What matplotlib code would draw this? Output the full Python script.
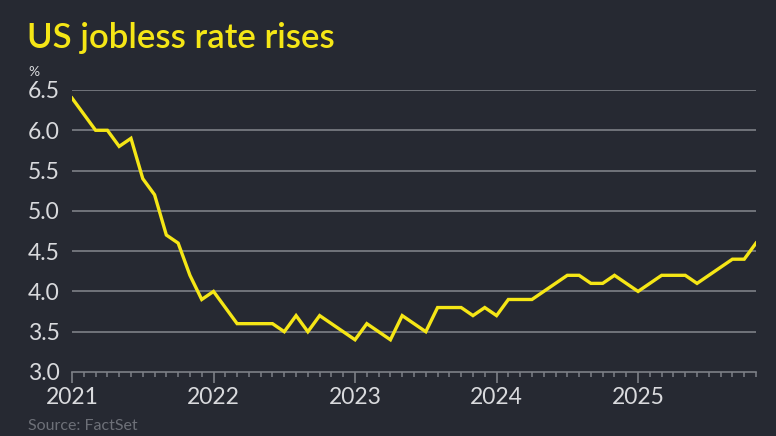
import matplotlib
matplotlib.use("Agg")
import matplotlib.pyplot as plt
import numpy as np

# US unemployment rate, monthly, Jan 2021 - Nov 2025 (%)
rate_2021 = [6.4, 6.2, 6.0, 6.0, 5.8, 5.9, 5.4, 5.2, 4.7, 4.6, 4.2, 3.9]
rate_2022 = [4.0, 3.8, 3.6, 3.6, 3.6, 3.6, 3.5, 3.7, 3.5, 3.7, 3.6, 3.5]
rate_2023 = [3.4, 3.6, 3.5, 3.4, 3.7, 3.6, 3.5, 3.8, 3.8, 3.8, 3.7, 3.8]
rate_2024 = [3.7, 3.9, 3.9, 3.9, 4.0, 4.1, 4.2, 4.2, 4.1, 4.1, 4.2, 4.1]
rate_2025 = [4.0, 4.1, 4.2, 4.2, 4.2, 4.1, 4.2, 4.3, 4.4, 4.4, 4.6]
years = ["2021", "2022", "2023", "2024", "2025"]
y_ticks = [3.0, 3.5, 4.0, 4.5, 5.0, 5.5, 6.0, 6.5]

rate = rate_2021 + rate_2022 + rate_2023 + rate_2024 + rate_2025
months = np.arange(len(rate))

BG = "#262932"
YELLOW = "#f5e616"
GRID = "#7d8087"
TEXT = "#d9dadd"

plt.rcParams["font.family"] = ["Lato", "DejaVu Sans"]

fig = plt.figure(figsize=(7.76, 4.36), dpi=100, facecolor=BG)
ax = fig.add_axes([72 / 776, 1 - 372 / 436, (756 - 72) / 776, (372 - 90) / 436])
ax.set_facecolor(BG)

for y in y_ticks[1:]:
    ax.axhline(y, color=GRID, lw=1.2, zorder=1)
ax.plot(months, rate, color=YELLOW, lw=2.4, solid_joinstyle="miter", zorder=3)

ax.set_xlim(0, len(rate) - 1)
ax.set_ylim(3.0, 6.5)
for side in ["top", "right", "left"]:
    ax.spines[side].set_visible(False)
ax.spines["bottom"].set_color(GRID)
ax.spines["bottom"].set_linewidth(1.2)

ax.set_yticks(y_ticks)
ax.set_yticklabels([f"{v:.1f}" for v in y_ticks])
ax.tick_params(axis="y", length=0, pad=9, labelsize=16.5, labelcolor=TEXT)

ax.set_xticks(np.arange(len(years)) * 12)
ax.set_xticklabels(years)
ax.set_xticks(months, minor=True)
ax.tick_params(axis="x", which="major", direction="out", length=8, width=1.2,
               color=GRID, pad=3, labelsize=16.5, labelcolor=TEXT)
ax.tick_params(axis="x", which="minor", direction="out", length=3.5, width=1.1,
               color=GRID)

fig.text(27 / 776, 1 - 38 / 436, "US jobless rate rises", color=YELLOW,
         fontsize=25, fontweight="semibold", va="center", ha="left")
fig.text(28 / 776, 1 - 72 / 436, "%", color=TEXT, fontsize=10,
         va="center", ha="left")
fig.text(28 / 776, 1 - 426 / 436, "Source: FactSet", color="#6d7078",
         fontsize=11.5, va="center", ha="left")

fig.savefig("out.png", dpi=100, facecolor=BG)
